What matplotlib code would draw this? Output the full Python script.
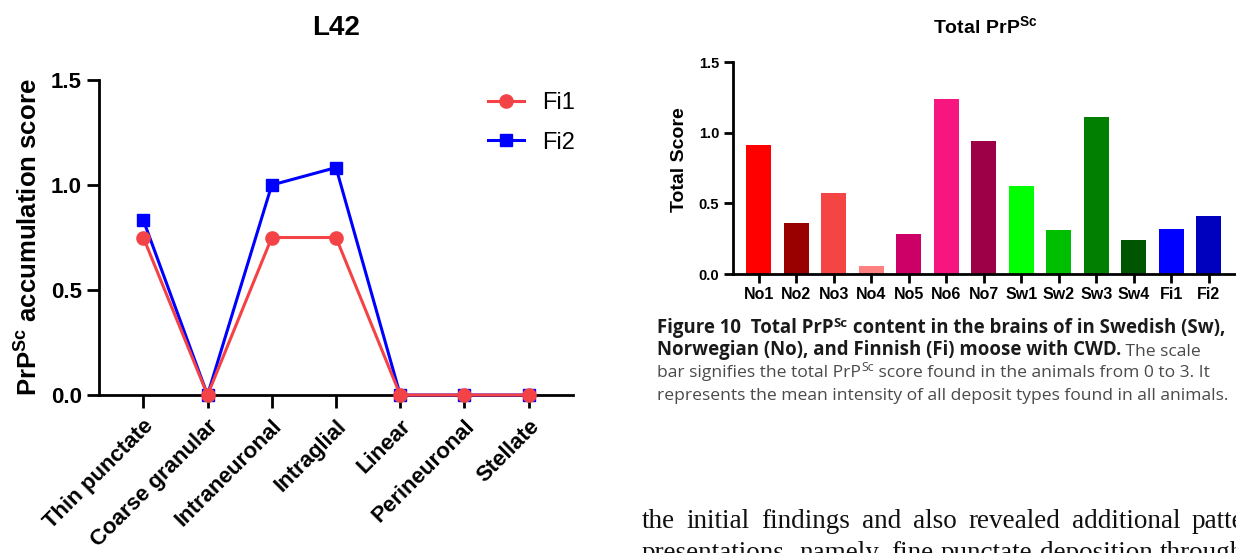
import matplotlib
matplotlib.use("Agg")
import matplotlib.pyplot as plt
from matplotlib.text import Annotation

plt.rcParams['font.family'] = ['Liberation Sans', 'DejaVu Sans']
plt.rcParams['mathtext.fontset'] = 'custom'
plt.rcParams['mathtext.rm'] = 'Liberation Sans'
plt.rcParams['mathtext.bf'] = 'Liberation Sans:bold'

# datos del panel L42
tipos = ["Thin punctate", "Coarse granular", "Intraneuronal", "Intraglial",
         "Linear", "Perineuronal", "Stellate"]
fi1 = [0.75, 0, 0.75, 0.75, 0, 0, 0]
fi2 = [0.833, 0, 1.0, 1.083, 0, 0, 0]

# datos del panel Total PrPSc
animales = ["No1", "No2", "No3", "No4", "No5", "No6", "No7",
            "Sw1", "Sw2", "Sw3", "Sw4", "Fi1", "Fi2"]
total = [0.91, 0.36, 0.57, 0.06, 0.28, 1.24, 0.94,
         0.62, 0.31, 1.11, 0.24, 0.32, 0.41]
colores = ["#FF0000", "#990000", "#F44444", "#FF8080", "#CC0066", "#F71680", "#9E0048",
           "#00FF00", "#00BF00", "#007F00", "#005500", "#0000FF", "#0000BF"]

W, H = 1236, 553
fig = plt.figure(figsize=(W / 100, H / 100), dpi=100)


def caja(x0, y0, x1, y1):
    # pixeles de la imagen -> fraccion de figura
    return [x0 / W, 1 - y1 / H, (x1 - x0) / W, (y1 - y0) / H]


# ---- panel izquierdo
ax = fig.add_axes(caja(99, 80, 573, 395))
x = range(len(tipos))
ax.plot(x, fi2, color="#0000FF", lw=2.2, marker="s", ms=9, label="Fi2", clip_on=False, zorder=3)
ax.plot(x, fi1, color="#F44346", lw=2.2, marker="o", ms=9.5, label="Fi1", clip_on=False, zorder=4)
ax.set_xlim(-0.69, 6.69)
ax.set_ylim(0, 1.5)
ax.set_yticks([0, 0.5, 1.0, 1.5])
ax.set_yticklabels(["0.0", "0.5", "1.0", "1.5"])
ax.set_xticks(list(x))
ax.set_xticklabels(tipos, rotation=45, ha="right", va="top", rotation_mode="anchor")
for s in ["top", "right"]:
    ax.spines[s].set_visible(False)
for s in ["left", "bottom"]:
    ax.spines[s].set_linewidth(2)
ax.tick_params(axis="both", width=2, length=9, labelsize=16)
ax.tick_params(axis="x", pad=6)
for t in ax.get_xticklabels() + ax.get_yticklabels():
    t.set_fontweight("bold")
ax.set_ylabel(r"$\mathbf{PrP^{Sc}}$ accumulation score", fontsize=18.5, fontweight="bold")
ax.yaxis.set_label_coords(-0.12, 0.5)
h, l = ax.get_legend_handles_labels()
ax.legend(h[::-1], l[::-1], loc="upper right", bbox_to_anchor=(1.05, 1.03), frameon=False,
          fontsize=17, handlelength=1.5, handletextpad=0.8, labelspacing=0.75)
fig.text(336 / W, 1 - 28 / H, "L42", fontsize=20, fontweight="bold", ha="center", va="center")

# ---- panel derecho
bx = fig.add_axes(caja(733, 62, 1235, 274))
bx.bar(range(len(animales)), total, width=0.66, color=colores)
bx.set_xlim(-0.69, 12.7)
bx.set_ylim(0, 1.5)
bx.set_yticks([0, 0.5, 1.0, 1.5])
bx.set_yticklabels(["0.0", "0.5", "1.0", "1.5"])
bx.set_xticks(range(len(animales)))
bx.set_xticklabels(animales)
for s in ["top", "right"]:
    bx.spines[s].set_visible(False)
for s in ["left", "bottom"]:
    bx.spines[s].set_linewidth(2)
bx.tick_params(axis="both", width=2, length=6.5, labelsize=10.5)
bx.tick_params(axis="x", labelsize=11.5, pad=3)
for t in bx.get_xticklabels() + bx.get_yticklabels():
    t.set_fontweight("bold")
bx.set_ylabel("Total Score", fontsize=14, fontweight="bold")
bx.yaxis.set_label_coords(-0.09, 0.54)
fig.text(985 / W, 1 - 26 / H, r"$\mathbf{Total\ PrP^{Sc}}$", fontsize=14, ha="center", va="center")

# ---- pie de figura
cap_font = ["Open Sans", "DejaVu Sans"]
gris = "#4a4a4a"


def linea(x, y, piezas):
    # piezas: (texto, negrita, superindice)
    base = None
    prev = None
    for txt, neg, sup in piezas:
        size = 13.4 if neg else 12.6
        kw = dict(fontsize=size * (0.7 if sup else 1), family=cap_font,
                  fontweight="bold" if neg else "normal",
                  color="#1a1a1a" if neg else gris)
        if base is None:
            base = fig.text(x / W, 1 - y / H, txt, va="baseline", ha="left", **kw)
            prev = base
            continue
        a = Annotation(txt, xy=(1, 0), xycoords=(prev, base),
                       xytext=(0, size * 0.42 if sup else 0), textcoords="offset points",
                       va="bottom", ha="left", **kw)
        fig.add_artist(a)
        prev = a


linea(657, 333, [("Figure 10  Total PrP", True, False), ("Sc", True, True),
                 (" content in the brains of in Swedish (Sw),", True, False)])
linea(657, 355, [("Norwegian (No), and Finnish (Fi) moose with CWD.", True, False),
                 (" The scale", False, False)])
linea(657, 377, [("bar signifies the total PrP", False, False), ("Sc", False, True),
                 (" score found in the animals from 0 to 3. It", False, False)])
linea(657, 400, [("represents the mean intensity of all deposit types found in all animals.", False, False)])

# ---- texto del articulo (justificado, sigue mas alla del borde)
rend = fig.canvas.get_renderer()


def justificado(texto, x0, x_ult, y, size):
    palabras = texto.split()
    arts = [fig.text(0, 1 - y / H, p, family="Liberation Serif", fontsize=size,
                     color="#111111", va="baseline") for p in palabras]
    anchos = [a.get_window_extent(rend).width for a in arts]
    hueco = (x_ult - x0 - sum(anchos[:-1])) / (len(palabras) - 1)
    xp = x0
    for a, w in zip(arts, anchos):
        a.set_x(xp / W)
        xp += w + hueco


justificado("the initial findings and also revealed additional patterns", 642, 1192, 528, 19.5)
justificado("presentations, namely, fine punctate deposition throughout", 642, 1160, 560, 19.5)

fig.savefig("out.png", dpi=100)
